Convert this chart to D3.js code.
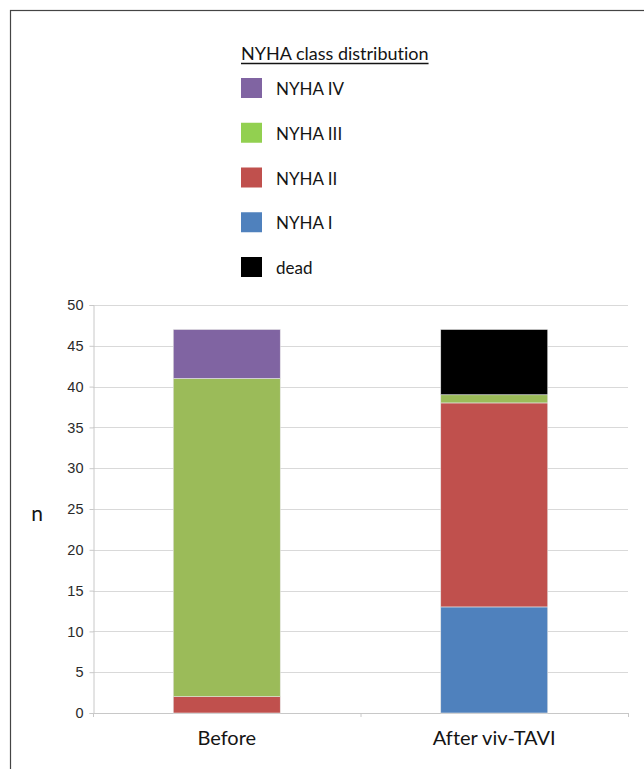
<!DOCTYPE html>
<html>
<head>
<meta charset="utf-8">
<script src="https://cdn.jsdelivr.net/npm/d3@7"></script>
<style>
  html, body { margin: 0; padding: 0; background: #fff; }
  svg { display: block; }
  text { font-variant-ligatures: none; font-feature-settings: "liga" 0, "clig" 0; }
</style>
</head>
<body>
<svg id="chart" width="644" height="769"></svg>
<script>
// Groups on the x axis
const categories = ["Before", "After viv-TAVI"];
// Stack order, bottom to top
const stackOrder = ["NYHA I", "NYHA II", "NYHA III", "NYHA IV", "dead"];
// Patient counts per class for each group
const nyhaI   = [0, 13];
const nyhaII  = [2, 25];
const nyhaIII = [39, 1];
const nyhaIV  = [6, 0];
const dead    = [0, 8];
// Legend entries, top to bottom
const legendLabels = ["NYHA IV", "NYHA III", "NYHA II", "NYHA I", "dead"];
const yTicks = [0, 5, 10, 15, 20, 25, 30, 35, 40, 45, 50];

const barColors = {
  "NYHA I": "#4f81bd", "NYHA II": "#c0504d", "NYHA III": "#9bbb59",
  "NYHA IV": "#8064a2", "dead": "#000000"
};
const legendColors = {
  "NYHA I": "#4f81bd", "NYHA II": "#c0504d", "NYHA III": "#92d050",
  "NYHA IV": "#8064a2", "dead": "#000000"
};

const rows = categories.map((c, i) => ({
  category: c,
  "NYHA I": nyhaI[i], "NYHA II": nyhaII[i], "NYHA III": nyhaIII[i],
  "NYHA IV": nyhaIV[i], "dead": dead[i]
}));

const svg = d3.select("#chart");
const uiFont = "Lato, 'Open Sans', sans-serif";
const numFont = "'Liberation Sans', Arial, sans-serif";
const ink = "#141414";

// Outer frame
svg.append("rect")
  .attr("x", 10.5).attr("y", 10.5)
  .attr("width", 660).attr("height", 780)
  .attr("fill", "none").attr("stroke", "#444").attr("stroke-width", 1.2);

const plot = { left: 93, right: 628, top: 305, bottom: 713 };

const x = d3.scaleBand()
  .domain(categories)
  .range([plot.left, plot.right])
  .paddingInner(0.6)
  .paddingOuter(0.3);

const y = d3.scaleLinear().domain([0, 50]).range([plot.bottom, plot.top]);

// Horizontal gridlines
svg.append("g")
  .selectAll("line")
  .data(yTicks)
  .join("line")
  .attr("x1", plot.left).attr("x2", plot.right)
  .attr("y1", d => Math.round(y(d)) + 0.5).attr("y2", d => Math.round(y(d)) + 0.5)
  .attr("stroke", "#d9d9d9").attr("stroke-width", 1);

// Y axis
const yAxis = svg.append("g")
  .attr("transform", `translate(${plot.left + 0.5},0)`)
  .call(d3.axisLeft(y).tickValues(yTicks).tickSize(4).tickPadding(6));
yAxis.select(".domain").attr("stroke", "#c8c8c8");
yAxis.selectAll(".tick line").attr("stroke", "#c8c8c8");
yAxis.selectAll(".tick text")
  .attr("font-family", numFont).attr("font-size", 14.5).attr("fill", "#2a2a2a");

// X axis line with tick marks between groups
const xAxisG = svg.append("g");
xAxisG.append("line")
  .attr("x1", plot.left).attr("x2", plot.right)
  .attr("y1", plot.bottom + 0.5).attr("y2", plot.bottom + 0.5)
  .attr("stroke", "#c8c8c8");
const boundaries = [plot.left, plot.left + (plot.right - plot.left) / 2, plot.right];
xAxisG.selectAll("line.tk")
  .data(boundaries)
  .join("line").attr("class", "tk")
  .attr("x1", d => d + 0.5).attr("x2", d => d + 0.5)
  .attr("y1", plot.bottom).attr("y2", plot.bottom + 4)
  .attr("stroke", "#c8c8c8");

// Category labels
svg.append("g")
  .selectAll("text")
  .data(categories)
  .join("text")
  .attr("x", d => x(d) + x.bandwidth() / 2)
  .attr("y", 745)
  .attr("text-anchor", "middle")
  .attr("font-family", uiFont).attr("font-size", 20).attr("fill", ink)
  .text(d => d);

// Y axis title
svg.append("text")
  .attr("x", 37).attr("y", 521)
  .attr("text-anchor", "middle")
  .attr("font-family", uiFont).attr("font-size", 21).attr("fill", ink)
  .text("n");

// Stacked bars
const stacked = d3.stack().keys(stackOrder)(rows);
svg.append("g")
  .selectAll("g")
  .data(stacked)
  .join("g")
  .attr("fill", d => barColors[d.key])
  .selectAll("rect")
  .data(d => d.filter(s => s[1] - s[0] > 0))
  .join("rect")
  .attr("x", d => x(d.data.category))
  .attr("width", x.bandwidth())
  .attr("y", d => y(d[1]))
  .attr("height", d => y(d[0]) - y(d[1]))
  .attr("stroke", "#e6e6e6").attr("stroke-width", 0.6);

// Legend
const legend = svg.append("g");
const title = legend.append("text")
  .attr("x", 241).attr("y", 60)
  .attr("font-family", uiFont).attr("font-size", 18).attr("fill", ink)
  .text("NYHA class distribution");
const tw = title.node().getComputedTextLength();
legend.append("line")
  .attr("x1", 241).attr("x2", 241 + tw)
  .attr("y1", 63.5).attr("y2", 63.5)
  .attr("stroke", ink).attr("stroke-width", 1.3);

const legendY = d3.scalePoint().domain(legendLabels).range([88, 267]);
const items = legend.selectAll("g.item")
  .data(legendLabels)
  .join("g").attr("class", "item")
  .attr("transform", d => `translate(0,${legendY(d)})`);
items.append("rect")
  .attr("x", 241).attr("y", -10)
  .attr("width", 21).attr("height", 20)
  .attr("fill", d => legendColors[d]);
items.append("text")
  .attr("x", 276).attr("y", 7)
  .attr("font-family", uiFont).attr("font-size", 17).attr("fill", ink)
  .text(d => d);
</script>
</body>
</html>
